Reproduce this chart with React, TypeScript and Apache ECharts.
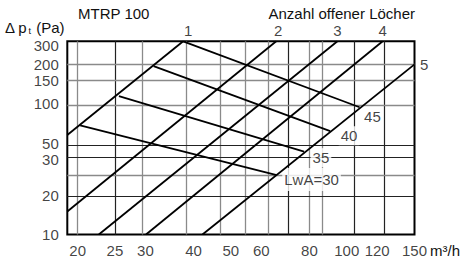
import React, { useEffect, useRef } from 'react';
import * as echarts from 'echarts';

// ---- data ----
const holeLabels = ['1', '2', '3', '4', '5'];
const holeLines: number[][][] = [
  [[18.8, 57.6], [37.6, 300]],
  [[18.8, 15.0], [65.6, 300]],
  [[22.7, 10], [94.6, 300]],
  [[30.1, 10], [124, 300]],
  [[42.2, 10], [150, 200]],
];
const lwaLabels = ['LwA=30', '35', '40', '45'];
const lwaLines: number[][][] = [
  [[20.3, 68.4], [65.8, 28.5]],
  [[25.6, 114.5], [77.5, 43.0]],
  [[31.5, 194], [90.6, 61.8]],
  [[37.6, 300], [108, 94]],
];
const xTickValues = [20, 25, 30, 40, 50, 60, 80, 100, 120, 150];
const xTickLabels = ['20', '25', '30', '40', '50', '60', '80', '100', '120', '150'];
const yTickValues = [10, 20, 40, 50, 100, 150, 200, 300];
const yTickLabels = ['10', '20', '30', '50', '100', '150', '200', '300'];
const xGridValues = [20, 25, 29.5, 38.4, 46.9, 54.4, 62.4, 70.3, 80, 86.3, 104.6, 125];
const xGridDark = [25, 70.3, 104.6, 125];
const yGridValues = [19.5, 28.5, 39, 48.5, 98, 150, 201];
const yGridDark = [19.5, 39, 48.5];
const X_MIN = 18.8;
const X_MAX = 150;
const Y_MIN = 10;
const Y_MAX = 300;

const FONT = "'Liberation Sans', Arial, Helvetica, sans-serif";
const TXT = '#111';

export default function App() {
  const ref = useRef<HTMLDivElement>(null);
  useEffect(() => {
    if (!ref.current) return;
    const chart = echarts.init(ref.current, undefined, { renderer: 'svg' });

    const gridStyle = (v: number, dark: number[]) => ({
      color: dark.includes(v) ? '#222' : '#8a8a8a',
      width: dark.includes(v) ? 1.2 : 1.3,
      type: 'solid',
    });

    const series: any[] = [];

    // x tick labels + vertical grid lines
    series.push({
      type: 'scatter', z: 1, silent: true, clip: false, symbolSize: 1,
      itemStyle: { color: 'rgba(0,0,0,0)' },
      label: { show: true, position: 'bottom', distance: 8, color: TXT, fontSize: 15, fontFamily: FONT },
      data: xTickValues.map((v, i) => ({ value: [v, Y_MIN], label: { formatter: xTickLabels[i] } })),
      markLine: {
        silent: true, z: 1, symbol: ['none', 'none'], animation: false,
        label: { show: false }, emphasis: { disabled: true },
        data: xGridValues.map((v) => ({ xAxis: v, lineStyle: gridStyle(v, xGridDark) })),
      },
    });

    // y tick labels + horizontal grid lines
    series.push({
      type: 'scatter', z: 1, silent: true, clip: false, symbolSize: 1,
      itemStyle: { color: 'rgba(0,0,0,0)' },
      label: { show: true, position: 'left', distance: 8, color: TXT, fontSize: 15, fontFamily: FONT },
      data: yTickValues.map((v, i) => ({
        value: [X_MIN, v],
        label: { formatter: yTickLabels[i], offset: [0, yTickLabels[i] === '300' || yTickLabels[i] === '30' ? 4 : 0] },
      })),
      markLine: {
        silent: true, z: 1, symbol: ['none', 'none'], animation: false,
        label: { show: false }, emphasis: { disabled: true },
        data: yGridValues.map((v) => ({ yAxis: v, lineStyle: gridStyle(v, yGridDark) })),
      },
    });

    // data lines
    holeLines.forEach((pts, i) => {
      series.push({
        type: 'line', name: 'holes ' + holeLabels[i], z: 3, silent: true, symbol: 'none',
        lineStyle: { color: '#000', width: 1.8 }, data: pts,
      });
    });
    lwaLines.forEach((pts, i) => {
      series.push({
        type: 'line', name: lwaLabels[i], z: 3, silent: true, symbol: 'none',
        lineStyle: { color: '#000', width: 1.8 }, data: pts,
      });
    });

    // annotations at line ends
    const holeOffsets = [[5, 0], [2, 0], [0, 0], [0, 0], [0, 0]];
    series.push({
      type: 'scatter', z: 2, silent: true, clip: false, symbolSize: 1,
      itemStyle: { color: 'rgba(0,0,0,0)' },
      data: holeLines.map((pts, i) => ({
        value: pts[pts.length - 1],
        label: {
          show: true, formatter: holeLabels[i], color: TXT, fontSize: 15, fontFamily: FONT,
          position: i === 4 ? 'right' : 'top', distance: i === 4 ? 5 : 3, offset: holeOffsets[i],
        },
      })),
    });
    const lwaPos = [
      { distance: 5, offset: [0, 4.6], padding: [4, 2, 4, 2] },
      { distance: 6, offset: [0, 6], padding: [2, 2, 2, 2] },
      { distance: 8, offset: [0, 4.7], padding: [2, 2, 2, 2] },
      { distance: 2, offset: [0, 9], padding: [2, 2, 2, 2] },
    ];
    series.push({
      type: 'scatter', z: 2, silent: true, clip: false, symbolSize: 1,
      itemStyle: { color: 'rgba(0,0,0,0)' },
      data: lwaLines.map((pts, i) => ({
        value: pts[pts.length - 1],
        label: {
          show: true, formatter: lwaLabels[i], color: TXT, fontSize: 15, fontFamily: FONT,
          position: 'right', distance: lwaPos[i].distance, offset: lwaPos[i].offset,
          backgroundColor: '#fff', padding: lwaPos[i].padding,
        },
      })),
    });

    const txt = (text: string, x: number, y: number, align: string, extra: any = {}) => ({
      type: 'text', x, y, silent: true, z: 10,
      style: {
        text, fill: TXT, fontSize: 15, fontFamily: FONT,
        align, verticalAlign: 'middle', textAlign: align, textVerticalAlign: 'middle', ...extra,
      },
    });

    chart.setOption({
      animation: false,
      backgroundColor: '#fff',
      grid: {
        left: 67.3, top: 41.3, width: 347.2, height: 193.2,
        show: true, borderColor: '#000', borderWidth: 2, backgroundColor: 'transparent',
      },
      xAxis: {
        type: 'log', logBase: 10, min: X_MIN, max: X_MAX,
        axisLine: { show: false }, axisTick: { show: false }, axisLabel: { show: false }, splitLine: { show: false },
      },
      yAxis: {
        type: 'log', logBase: 10, min: Y_MIN, max: Y_MAX,
        axisLine: { show: false }, axisTick: { show: false }, axisLabel: { show: false }, splitLine: { show: false },
      },
      graphic: [
        txt('MTRP 100', 78, 13.5, 'left'),
        txt('Anzahl offener Löcher', 415, 13.5, 'right'),
        txt('m³/h', 430, 250.5, 'left'),
        {
          type: 'text', x: 5, y: 27.5, silent: true, z: 10,
          style: {
            text: '{a|Δ p}{b|t}{a| (Pa)}',
            fill: TXT, fontFamily: FONT, fontSize: 15,
            verticalAlign: 'middle', textVerticalAlign: 'middle', align: 'left', textAlign: 'left',
            rich: {
              a: { fontSize: 15, fontFamily: FONT, fill: TXT, color: TXT, verticalAlign: 'bottom' },
              b: { fontSize: 9, fontFamily: FONT, fill: TXT, color: TXT, verticalAlign: 'bottom', padding: [0, 1, 0, 1] },
            },
          },
        },
      ],
      series,
    });
    return () => chart.dispose();
  }, []);
  return <div ref={ref} style={{ position: 'absolute', left: 0, top: 0, width: 464, height: 262 }} />;
}
